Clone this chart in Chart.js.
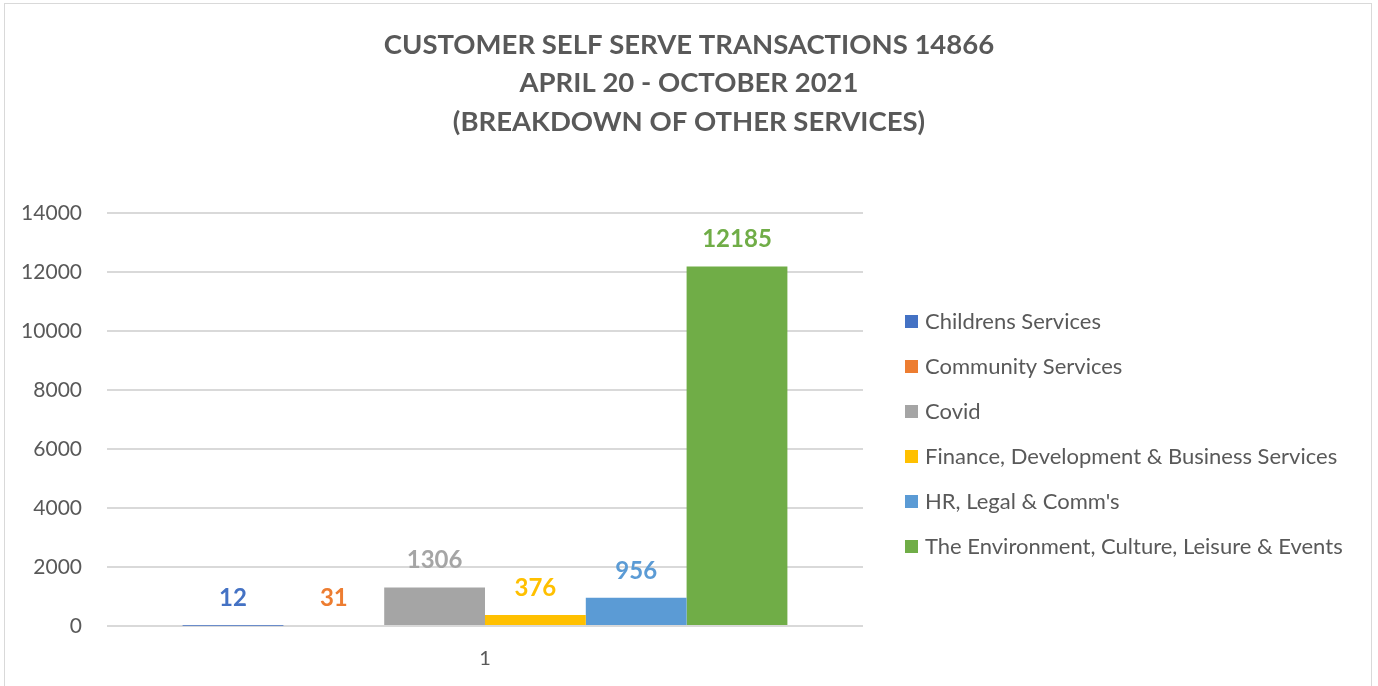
<!DOCTYPE html>
<html>
<head>
<meta charset="utf-8">
<script src="https://cdn.jsdelivr.net/npm/chart.js@4.4.0/dist/chart.umd.min.js"></script>
<style>
  html, body { margin: 0; padding: 0; background: #fff; overflow: hidden; }
  #wrap { position: absolute; left: 0; top: 0; width: 1378px; height: 686px; }
  #frame { position: absolute; left: 4px; top: 3px; width: 1368px; height: 700px;
           border: 1px solid #d9d9d9; box-sizing: border-box; pointer-events: none; }
</style>
</head>
<body>
<div id="wrap"><canvas id="chart"></canvas></div>
<div id="frame"></div>
<script>
// Données
var categories = ['1'];
var seriesNames = [
    'Childrens Services',
    'Community Services',
    'Covid',
    'Finance, Development & Business Services',
    "HR, Legal & Comm's",
    'The Environment, Culture, Leisure & Events'
];
var seriesValues = [12, 31, 1306, 376, 956, 12185];
var seriesColors = ['#4472C4', '#ED7D31', '#A5A5A5', '#FFC000', '#5B9BD5', '#70AD47'];
var yTicks = [0, 2000, 4000, 6000, 8000, 10000, 12000, 14000];
var titleLines = [
    'CUSTOMER SELF SERVE TRANSACTIONS 14866',
    'APRIL 20 - OCTOBER 2021',
    '(BREAKDOWN OF OTHER SERVICES)'
];

var FONT = 'Lato, "Open Sans", sans-serif';
var TEXT = '#595959';

// Étiquettes de valeur au-dessus des barres
var valueLabels = {
    id: 'valueLabels',
    afterDatasetsDraw: function (chart) {
        var ctx = chart.ctx;
        ctx.save();
        ctx.font = 'bold 24px ' + FONT;
        ctx.textAlign = 'center';
        ctx.textBaseline = 'middle';
        chart.data.datasets.forEach(function (ds, i) {
            var meta = chart.getDatasetMeta(i);
            meta.data.forEach(function (bar, j) {
                ctx.fillStyle = ds.backgroundColor;
                ctx.fillText(String(ds.data[j]), bar.x, bar.y - 27);
            });
        });
        ctx.restore();
    }
};

// Titre centré sur toute la largeur (le titre natif se centre hors légende)
var wideTitle = {
    id: 'wideTitle',
    afterDraw: function (chart) {
        var ctx = chart.ctx;
        ctx.save();
        ctx.font = 'bold 27.5px ' + FONT;
        ctx.fillStyle = TEXT;
        ctx.textAlign = 'center';
        ctx.textBaseline = 'middle';
        titleLines.forEach(function (line, i) {
            ctx.fillText(line, chart.width / 2, 45 + i * 38.5);
        });
        ctx.restore();
    }
};

// Légende à droite (la légende native est limitée en largeur)
var sideLegend = {
    id: 'sideLegend',
    afterDraw: function (chart) {
        var ctx = chart.ctx;
        var area = chart.chartArea;
        var x0 = area.right + 42;
        var step = 45;
        var n = chart.data.datasets.length;
        var yMid = (area.top + area.bottom) / 2 + 15;
        var y0 = yMid - step * (n - 1) / 2;
        ctx.save();
        ctx.font = '22px ' + FONT;
        ctx.textAlign = 'left';
        ctx.textBaseline = 'middle';
        chart.data.datasets.forEach(function (ds, i) {
            var y = y0 + i * step;
            ctx.fillStyle = ds.backgroundColor;
            ctx.fillRect(x0, y - 7, 13, 13);
            ctx.fillStyle = TEXT;
            ctx.fillText(ds.label, x0 + 20, y);
        });
        ctx.restore();
    }
};

var datasets = seriesNames.map(function (name, i) {
    return {
        label: name,
        data: [seriesValues[i]],
        backgroundColor: seriesColors[i],
        borderWidth: 0
    };
});

new Chart(document.getElementById('chart'), {
    type: 'bar',
    data: { labels: categories, datasets: datasets },
    plugins: [valueLabels, wideTitle, sideLegend],
    options: {
        responsive: true,
        maintainAspectRatio: false,
        animation: false,
        datasets: { bar: { categoryPercentage: 0.8, barPercentage: 1.0 } },
        layout: { padding: { left: 0, right: 515, top: 213, bottom: 0 } },
        plugins: {
            title: { display: false },
            legend: { display: false },
            tooltip: { enabled: false }
        },
        scales: {
            x: {
                grid: { display: false, drawTicks: false },
                border: { display: false },
                ticks: { color: TEXT, font: { family: FONT, size: 20 }, padding: 21 },
                afterFit: function (s) { s.height = 60; }
            },
            y: {
                min: 0,
                max: 14000,
                afterBuildTicks: function (s) {
                    s.ticks = yTicks.map(function (v) { return { value: v }; });
                },
                grid: { color: '#d9d9d9', lineWidth: 2, drawTicks: false },
                border: { display: false },
                ticks: {
                    color: TEXT,
                    font: { family: FONT, size: 21 },
                    padding: 25,
                    callback: function (v) { return String(v); }
                },
                afterFit: function (s) { s.width = 107; }
            }
        }
    }
});
</script>
</body>
</html>
